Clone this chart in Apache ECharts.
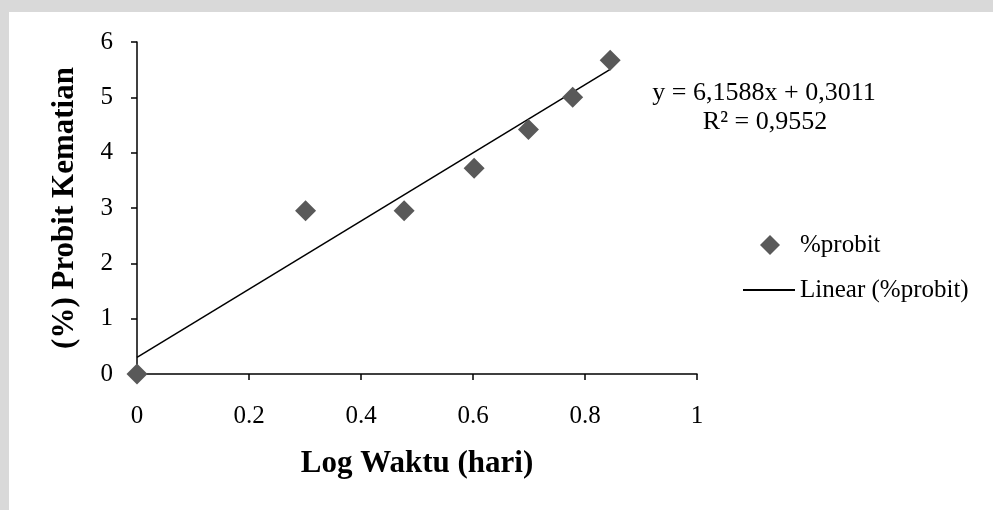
<!DOCTYPE html>
<html>
<head>
<meta charset="utf-8">
<style>
  html, body { margin: 0; padding: 0; background: #d9d9d9; }
  #chart { width: 993px; height: 510px; }
</style>
<script src="https://cdn.jsdelivr.net/npm/echarts@6/dist/echarts.min.js"></script>
</head>
<body>
<div id="chart"></div>
<script>
(function () {
  'use strict';

  // log waktu (hari) vs probit kematian
  const logWaktu = [0, 0.301, 0.477, 0.602, 0.699, 0.778, 0.845];
  const probit = [0, 2.95, 2.95, 3.72, 4.42, 5.0, 5.67];

  // garis linear (trendline Excel): y = 6,1588x + 0,3011
  const trendX = [0, 0.845];
  const trendY = [0.3011, 5.5052];

  const eqLines = ['y = 6,1588x + 0,3011', 'R² = 0,9552'];

  const FONT = "'Liberation Serif', 'Times New Roman', serif";
  const chart = echarts.init(document.getElementById('chart'), null, { renderer: 'canvas' });

  const pts = logWaktu.map((x, i) => [x, probit[i]]);
  const trend = trendX.map((x, i) => [x, trendY[i]]);

  const legendText = { fontFamily: FONT, fontSize: 25, color: '#000', lineHeight: 26 };

  chart.setOption({
    backgroundColor: '#d9d9d9',
    animation: false,
    textStyle: { fontFamily: FONT },
    graphic: [
      { type: 'rect', z: -10, shape: { x: 9, y: 12, width: 984, height: 498 }, style: { fill: '#ffffff' } },
      {
        type: 'text', x: 764, y: 93,
        style: { text: eqLines[0], font: '26px ' + FONT, fill: '#000', align: 'center', verticalAlign: 'middle' }
      },
      {
        type: 'text', x: 765, y: 122,
        style: { text: eqLines[1], font: '26px ' + FONT, fill: '#000', align: 'center', verticalAlign: 'middle' }
      }
    ],
    grid: { left: 137, right: 296, top: 42, bottom: 136 },
    legend: [
      {
        left: 755, top: 227, itemWidth: 20, itemHeight: 20,
        textStyle: Object.assign({ padding: [0, 0, 0, 15] }, legendText),
        data: [{ name: '%probit', icon: 'diamond' }]
      },
      {
        left: 738, top: 272, itemWidth: 52, itemHeight: 2,
        textStyle: legendText,
        data: [{ name: 'Linear (%probit)', icon: 'rect' }]
      }
    ],
    xAxis: {
      type: 'value', min: 0, max: 1, interval: 0.2,
      name: 'Log Waktu (hari)', nameLocation: 'middle', nameGap: 74,
      nameTextStyle: { fontFamily: FONT, fontSize: 31, fontWeight: 'bold', color: '#000' },
      axisLine: { lineStyle: { color: '#000', width: 1.5 } },
      axisTick: { show: true, length: 6, lineStyle: { color: '#000', width: 1.5 } },
      axisLabel: { fontFamily: FONT, fontSize: 25, color: '#000', margin: 30 },
      splitLine: { show: false }
    },
    yAxis: {
      type: 'value', min: 0, max: 6, interval: 1,
      name: '(%) Probit Kematian', nameLocation: 'middle', nameGap: 57,
      nameTextStyle: { fontFamily: FONT, fontSize: 31, fontWeight: 'bold', color: '#000' },
      axisLine: { show: true, lineStyle: { color: '#000', width: 1.5 } },
      axisTick: { show: true, length: 6, lineStyle: { color: '#000', width: 1.5 } },
      axisLabel: { fontFamily: FONT, fontSize: 25, color: '#000', margin: 24 },
      splitLine: { show: false }
    },
    series: [
      {
        name: 'Linear (%probit)', type: 'line', data: trend, symbol: 'none',
        lineStyle: { color: '#000', width: 1.5 }, itemStyle: { color: '#000' }, z: 2
      },
      {
        name: '%probit', type: 'scatter', data: pts, symbol: 'diamond', symbolSize: 21,
        itemStyle: { color: '#595959', opacity: 1 }, z: 3
      }
    ]
  });

  window.addEventListener('resize', () => chart.resize());
})();
</script>
</body>
</html>
